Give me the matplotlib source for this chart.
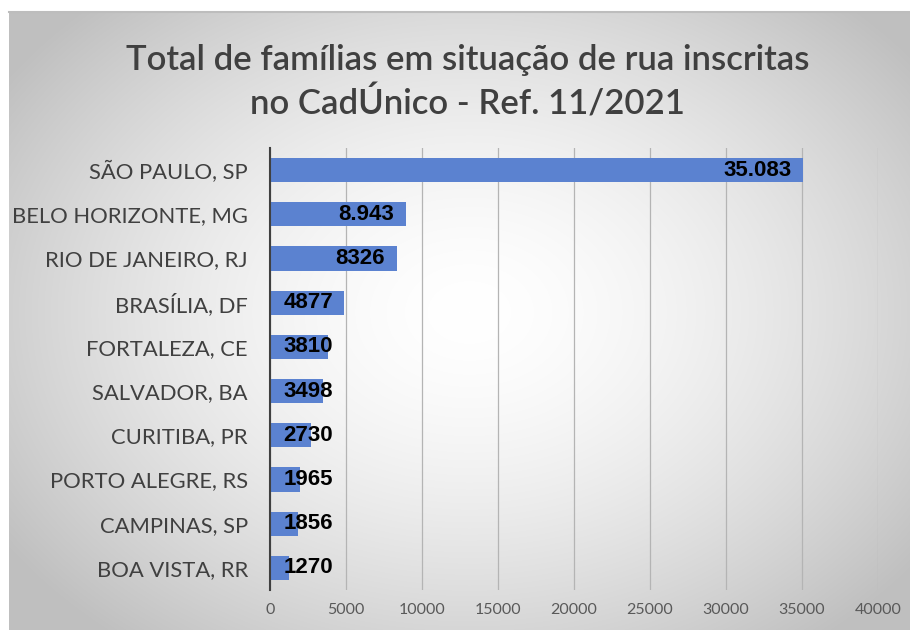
import numpy as np
import matplotlib
matplotlib.use('Agg')
import matplotlib.pyplot as plt

plt.rcParams['font.family'] = ['Lato', 'DejaVu Sans']

# Data
cities = ['SÃO PAULO, SP', 'BELO HORIZONTE, MG', 'RIO DE JANEIRO, RJ', 'BRASÍLIA, DF',
          'FORTALEZA, CE', 'SALVADOR, BA', 'CURITIBA, PR', 'PORTO ALEGRE, RS',
          'CAMPINAS, SP', 'BOA VISTA, RR']
families = [35083, 8943, 8326, 4877, 3810, 3498, 2730, 1965, 1856, 1270]
value_labels = ['35.083', '8.943', '8326', '4877', '3810', '3498', '2730', '1965', '1856', '1270']
x_ticks = [0, 5000, 10000, 15000, 20000, 25000, 30000, 35000, 40000]

bar_color = '#5b82d0'
text_gray = '#404040'
tick_gray = '#595959'
grid_gray = '#b4b4b4'

fig = plt.figure(figsize=(9.1, 6.3), dpi=100)
fig.patch.set_facecolor('white')

# radial gradient background (white centre, grey edges)
bg = fig.add_axes([9 / 910, 0, 1 - 9 / 910, 618 / 630], zorder=0)
h, w = 618, 901
yy, xx = np.mgrid[0:h, 0:w]
r = np.sqrt(((xx - 460) / 560) ** 2 + ((yy - 300) / 420) ** 2)
shade = 1 - 0.25 * np.clip(r, 0, 1) ** 1.6
bg.imshow(np.dstack([shade] * 3), aspect='auto', extent=[0, 1, 0, 1])
bg.set_axis_off()
fig.add_artist(plt.Line2D([9 / 910, 1], [618 / 630, 618 / 630], color='#bdbdbd', lw=1.5,
                          transform=fig.transFigure))

ax = fig.add_axes([270 / 910, 40 / 630, 608 / 910, 442 / 630], zorder=1)
ax.patch.set_alpha(0)

y = np.arange(len(cities))
ax.barh(y, families, height=0.55, color=bar_color, zorder=2)

for yi, v, lab in zip(y, families, value_labels):
    ax.text(max(v - 800, 4150), yi, lab, ha='right', va='center', fontsize=16,
            fontweight='bold', color='black', family=['Liberation Sans'], zorder=3)

ax.set_xlim(0, 40000)
ax.set_ylim(9.5, -0.5)
ax.set_yticks(y)
ax.set_yticklabels(cities, fontsize=15.8, color=text_gray)
ax.set_xticks(x_ticks)
ax.set_xticklabels([str(t) for t in x_ticks], fontsize=11.5, color=tick_gray)
ax.tick_params(axis='both', length=0)
ax.tick_params(axis='y', pad=16)
ax.tick_params(axis='x', pad=9)

ax.grid(True, axis='x', color=grid_gray, linewidth=0.9, zorder=1)
ax.set_axisbelow(True)
for s in ['top', 'right', 'bottom']:
    ax.spines[s].set_visible(False)
ax.spines['left'].set_color('#404040')
ax.spines['left'].set_linewidth(1.5)
ax.spines['left'].set_zorder(4)

fig.text(0.514, 0.905, 'Total de famílias em situação de rua inscritas', ha='center', va='center',
         fontsize=25, fontweight='semibold', color=text_gray)
fig.text(0.514, 0.836, 'no CadÚnico - Ref. 11/2021', ha='center', va='center',
         fontsize=25, fontweight='semibold', color=text_gray)

fig.savefig('out.png', dpi=100)
